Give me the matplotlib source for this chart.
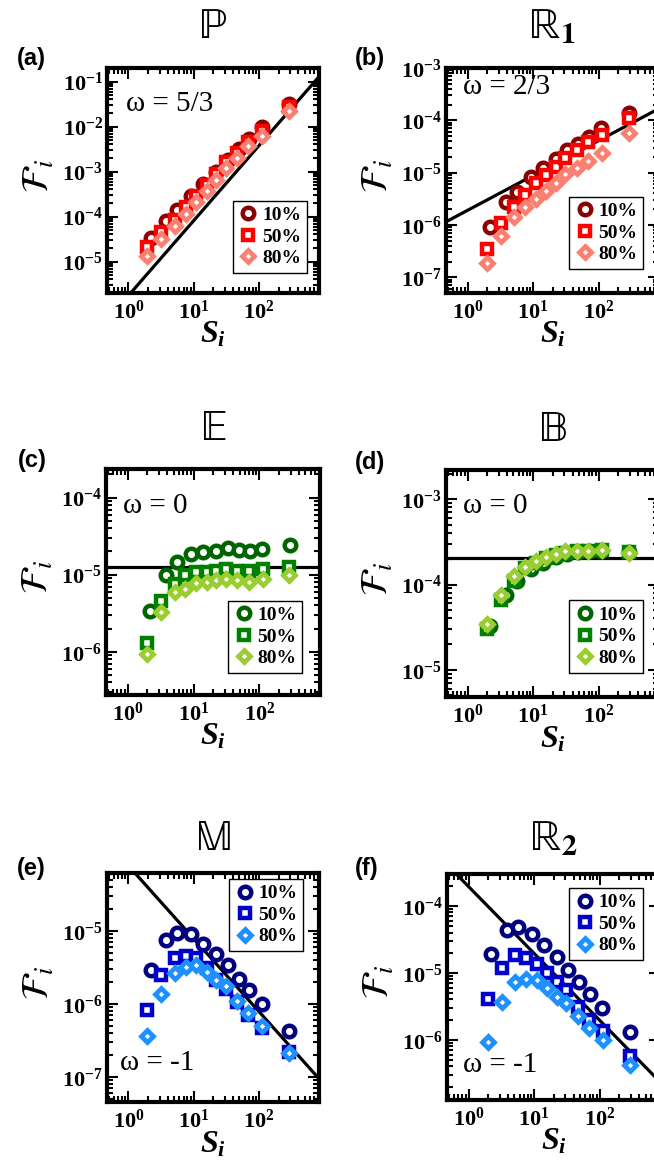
import numpy as np
import matplotlib
matplotlib.use('Agg')
import matplotlib.pyplot as plt
from matplotlib.ticker import LogLocator, NullFormatter, FuncFormatter

# sizes S_i (10% series has one point less)
x10 = [2.2, 3.8, 5.6, 9.2, 14, 22, 33, 49, 71, 110, 288]
x50 = [1.95, 3.2, 5.2, 7.5, 11, 16, 22, 31, 46, 69, 112, 285]
labels = ['10%', '50%', '80%']

# (a) P
a10 = [3.3e-5, 7.8e-5, 1.4e-4, 2.8e-4, 5.2e-4, 9.8e-4, 1.8e-3, 3.1e-3, 5.4e-3, 1.0e-2, 3.1e-2]
a50 = [2.1e-5, 4.5e-5, 8.5e-5, 1.6e-4, 2.9e-4, 5.0e-4, 8.7e-4, 1.6e-3, 2.6e-3, 4.5e-3, 7.9e-3, 2.7e-2]
a80 = [1.35e-5, 3.1e-5, 6.3e-5, 1.15e-4, 2.1e-4, 3.7e-4, 6.6e-4, 1.2e-3, 2.0e-3, 3.7e-3, 6.2e-3, 2.2e-2]
# (b) R1
b10 = [9.3e-7, 2.8e-6, 4.3e-6, 8.3e-6, 1.23e-5, 1.8e-5, 2.7e-5, 3.5e-5, 4.7e-5, 7.2e-5, 1.4e-4]
b50 = [3.5e-7, 1.07e-6, 2.2e-6, 3.8e-6, 6.2e-6, 8.9e-6, 1.3e-5, 1.9e-5, 2.75e-5, 3.9e-5, 5.2e-5, 1.1e-4]
b80 = [1.9e-7, 6.2e-7, 1.4e-6, 2.2e-6, 3.2e-6, 4.4e-6, 6.3e-6, 9.5e-6, 1.2e-5, 1.66e-5, 2.4e-5, 5.6e-5]
# (c) E
c10 = [3.4e-6, 9.8e-6, 1.44e-5, 1.86e-5, 1.95e-5, 2.05e-5, 2.2e-5, 2.1e-5, 2.05e-5, 2.15e-5, 2.4e-5]
c50 = [1.3e-6, 4.6e-6, 7.6e-6, 1.0e-5, 1.07e-5, 1.1e-5, 1.12e-5, 1.2e-5, 1.12e-5, 1.12e-5, 1.17e-5, 1.26e-5]
c80 = [9.3e-7, 3.3e-6, 5.9e-6, 6.6e-6, 7.9e-6, 8.1e-6, 8.5e-6, 8.7e-6, 8.5e-6, 8.1e-6, 8.7e-6, 9.8e-6]
# (d) B
d10 = [3.3e-5, 7.5e-5, 1.1e-4, 1.5e-4, 1.8e-4, 2.1e-4, 2.3e-4, 2.4e-4, 2.5e-4, 2.5e-4, 2.4e-4]
d50 = [3.0e-5, 6.5e-5, 1.1e-4, 1.55e-4, 1.8e-4, 2.05e-4, 2.2e-4, 2.35e-4, 2.45e-4, 2.5e-4, 2.55e-4, 2.4e-4]
d80 = [3.4e-5, 7.5e-5, 1.25e-4, 1.6e-4, 1.9e-4, 2.1e-4, 2.3e-4, 2.45e-4, 2.5e-4, 2.5e-4, 2.55e-4, 2.35e-4]
# (e) M
e10 = [2.9e-6, 7.5e-6, 9.3e-6, 8.9e-6, 6.6e-6, 4.8e-6, 3.4e-6, 2.2e-6, 1.55e-6, 1.0e-6, 4.2e-7]
e50 = [8.3e-7, 2.5e-6, 4.2e-6, 4.5e-6, 4.3e-6, 3.1e-6, 2.1e-6, 1.6e-6, 1.07e-6, 7.1e-7, 4.6e-7, 2.2e-7]
e80 = [3.6e-7, 1.36e-6, 2.6e-6, 3.2e-6, 3.4e-6, 2.7e-6, 2.1e-6, 1.75e-6, 1.1e-6, 7.5e-7, 4.9e-7, 2.1e-7]
# (f) R2
f10 = [1.9e-5, 4.3e-5, 4.9e-5, 3.8e-5, 2.6e-5, 1.7e-5, 1.12e-5, 7.4e-6, 4.8e-6, 3.0e-6, 1.3e-6]
f50 = [4.1e-6, 1.18e-5, 1.85e-5, 1.65e-5, 1.36e-5, 1.0e-5, 7.2e-6, 5.6e-6, 3.1e-6, 2.0e-6, 1.35e-6, 5.8e-7]
f80 = [9.3e-7, 3.7e-6, 7.2e-6, 8.1e-6, 7.9e-6, 5.9e-6, 4.4e-6, 3.6e-6, 2.3e-6, 1.5e-6, 9.8e-7, 4.2e-7]

# power laws F = A * S^omega
omegas = [5/3, 2/3, 0, 0, -1, -1]
omega_txt = ['5/3', '2/3', '0', '0', '-1', '-1']
prefac = [1.75e-6, 1.9e-6, 1.25e-5, 2.05e-4, 7.8e-5, 1.95e-4]

titles = [r'$\mathrm{\mathbb{P}}$', r'$\mathrm{\mathbb{R}}_\mathbf{1}$', r'$\mathrm{\mathbb{E}}$',
          r'$\mathrm{\mathbb{B}}$', r'$\mathrm{\mathbb{M}}$', r'$\mathrm{\mathbb{R}}_\mathbf{2}$']
tags = ['(a)', '(b)', '(c)', '(d)', '(e)', '(f)']

reds = ['#8b0000', '#ff0000', '#fa8072']
greens = ['#006400', '#008000', '#9acd32']
blues = ['#000080', '#0000cd', '#1e90ff']

plt.rcParams['mathtext.fontset'] = 'custom'
plt.rcParams['mathtext.rm'] = 'Liberation Serif:bold'
plt.rcParams['mathtext.bf'] = 'Liberation Serif:bold'
plt.rcParams['mathtext.it'] = 'Liberation Serif:italic:bold'

W, H = 654, 1173
fig = plt.figure(figsize=(W / 100, H / 100), dpi=100)

# pixel boxes: left, top, right, bottom
boxes = [(107, 68, 319, 293), (446, 68, 659, 293),
         (106, 469, 320, 695), (446, 470, 659, 697),
         (107, 873, 319, 1102), (447, 874, 660, 1100)]
ylims = [(2e-6, 0.2), (5e-8, 1e-3), (2.75e-7, 2.35e-4),
         (4.8e-6, 2.2e-3), (4.5e-8, 6.2e-5), (1.26e-7, 3e-4)]
om_pos = [(0.09, 0.84), (0.08, 0.915), (0.08, 0.836),
          (0.08, 0.84), (0.06, 0.17), (0.075, 0.155)]
leg_pos = [('lower right', (0.943, 0.089)), ('lower right', (0.925, 0.107)),
           ('lower right', (0.916, 0.097)), ('lower right', (0.925, 0.107)),
           ('upper right', (0.925, 0.974)), ('upper right', (0.92, 0.938))]
title_y = [1.133, 1.133, 1.128, 1.128, 1.10, 1.106]
tag_px = [(17, 58), (355, 58), (18, 461), (355, 463), (17, 868), (355, 868)]

data = [(a10, a50, a80, reds), (b10, b50, b80, reds),
        (c10, c50, c80, greens), (d10, d50, d80, greens),
        (e10, e50, e80, blues), (f10, f50, f80, blues)]


def fmt(v, pos):
    return r'$\mathbf{10^{%d}}$' % int(round(np.log10(v)))


for i in range(6):
    l, t, r, b = boxes[i]
    ax = fig.add_axes([l / W, 1 - b / H, (r - l) / W, (b - t) / H])
    s10, s50, s80, cols = data[i]

    ax.plot(x10, s10, 'o', ms=8.3, mew=3.2, mec=cols[0], mfc='white', ls='none', label=labels[0])
    ax.plot(x50, s50, 's', ms=7.2, mew=3.2, mec=cols[1], mfc='white', ls='none', label=labels[1])
    ax.plot(x50, s80, 'D', ms=6.4, mew=3.4, mec=cols[2], mfc='white', ls='none', label=labels[2])

    xx = np.array([0.1, 5000.0])
    ax.plot(xx, prefac[i] * xx ** omegas[i], color='black', lw=2.3, zorder=1)

    ax.set_xscale('log')
    ax.set_yscale('log')
    ax.set_xlim(0.47, 830)
    ax.set_ylim(*ylims[i])

    for a in (ax.xaxis, ax.yaxis):
        a.set_major_locator(LogLocator(base=10, numticks=20))
        a.set_minor_locator(LogLocator(base=10, subs=np.arange(2, 10), numticks=20))
        a.set_major_formatter(FuncFormatter(fmt))
        a.set_minor_formatter(NullFormatter())

    ax.tick_params(which='both', direction='in', top=True, right=True, width=1.5)
    ax.tick_params(which='major', length=8, labelsize=16)
    ax.tick_params(which='minor', length=4)
    ax.tick_params(axis='x', pad=5)
    ax.tick_params(axis='y', pad=3)
    for sp in ax.spines.values():
        sp.set_linewidth(3)

    ax.set_xlabel(r'$S_i$', fontsize=23)
    ax.xaxis.set_label_coords(0.5, -0.115)
    ax.set_ylabel(r'$\mathcal{F}_i$', fontsize=27, math_fontfamily='stix')
    ax.yaxis.set_label_coords(-0.235, 0.52)

    ax.text(om_pos[i][0], om_pos[i][1], '\u03c9 = ' + omega_txt[i], transform=ax.transAxes,
            ha='left', va='center', fontsize=21, family='Liberation Serif')

    ax.text(0.5, title_y[i], titles[i], transform=ax.transAxes, ha='center', va='baseline',
            fontsize=31, math_fontfamily='stix')

    loc, anchor = leg_pos[i]
    leg = ax.legend(loc=loc, bbox_to_anchor=anchor, borderaxespad=0,
                    prop={'family': 'Liberation Serif', 'weight': 'bold', 'size': 14},
                    frameon=True, fancybox=False, framealpha=1, edgecolor='black',
                    borderpad=0.3, labelspacing=0.2, handletextpad=0.2, handlelength=1.0)
    leg.get_frame().set_linewidth(1.0)

    fig.text(tag_px[i][0] / W, 1 - tag_px[i][1] / H, tags[i], ha='left', va='center',
             fontsize=17, fontweight='bold', family='Liberation Sans')

fig.savefig('out.png', dpi=100)
